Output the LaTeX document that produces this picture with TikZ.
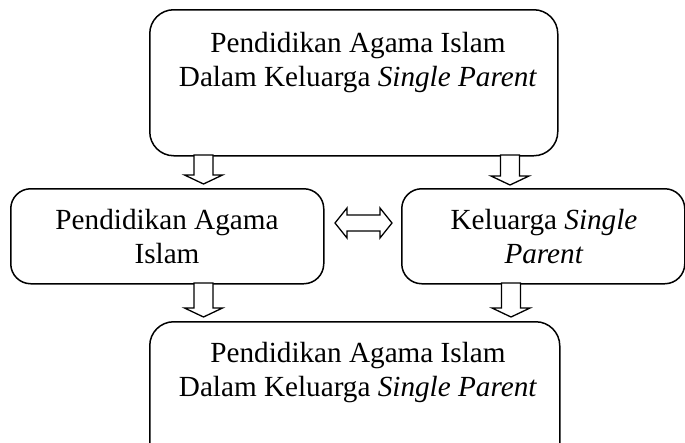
\documentclass[tikz,border=0pt]{standalone}
\usepackage{fontspec}
\setmainfont{Liberation Serif}
\usetikzlibrary{calc}
\newcommand\blkdown[2]{%
  \draw[blk] let \p1=(#1), \p2=(#2) in
    (\x1-9.5pt,\y1) -- (\x1+9.5pt,\y1) -- (\x1+9.5pt,\y2+9pt) -- (\x1+19pt,\y2+9pt)
    -- (\x1,\y2) -- (\x1-19pt,\y2+9pt) -- (\x1-9.5pt,\y2+9pt) -- cycle;}
\begin{document}
\begin{tikzpicture}[x=1pt,y=-1pt, line width=1.5pt,
  bigbox/.style={draw, rounded corners=24pt, inner sep=0pt},
  midbox/.style={draw, rounded corners=20pt, inner sep=0pt},
  txt/.style={align=center, inner sep=0pt, font=\fontsize{29.2}{34}\selectfont},
  blk/.style={draw, line width=1.3pt, fill=white, line join=miter}]
\useasboundingbox (0,0) rectangle (685,442);

\node[bigbox, minimum width=408, minimum height=146, anchor=north west] (top) at (149,9) {};
\node[midbox, minimum width=313, minimum height=95, anchor=north west] (left) at (10,188) {};
\node[midbox, minimum width=283, minimum height=95, anchor=north west] (right) at (401,188) {};
\node[bigbox, minimum width=410, minimum height=150, anchor=north west] (bottom) at (149,321) {};

\node[txt] (toptext) at (358,62.5) {Pendidikan Agama Islam\\Dalam Keluarga \textit{Single Parent}};
\node[txt] (lefttext) at (167,237) {Pendidikan Agama\\Islam};
\node[txt] (righttext) at (544,237) {Keluarga \textit{Single}\\\textit{Parent}};
\node[txt] (bottomtext) at (358,372.5) {Pendidikan Agama Islam\\Dalam Keluarga \textit{Single Parent}};

\coordinate (t1s) at (203.5,155);
\coordinate (t1e) at (203.5,184);
\coordinate (t2s) at (510,155);
\coordinate (t2e) at (510,185);
\coordinate (b1s) at (203.5,283);
\coordinate (b1e) at (203.5,317);
\coordinate (b2s) at (511,283);
\coordinate (b2e) at (511,317);
\blkdown{t1s}{t1e}
\blkdown{t2s}{t2e}
\blkdown{b1s}{b1e}
\blkdown{b2s}{b2e}

\coordinate (dl) at (335,223);
\coordinate (dr) at (392,223);
\draw[blk] let \p1=(dl), \p2=(dr) in
  (\x1,\y1) -- (\x1+12pt,\y1+15pt) -- (\x1+12pt,\y1+8pt) -- (\x2-12pt,\y1+8pt)
  -- (\x2-12pt,\y1+15pt) -- (\x2,\y1) -- (\x2-12pt,\y1-15pt) -- (\x2-12pt,\y1-8pt)
  -- (\x1+12pt,\y1-8pt) -- (\x1+12pt,\y1-15pt) -- cycle;
\end{tikzpicture}
\end{document}
